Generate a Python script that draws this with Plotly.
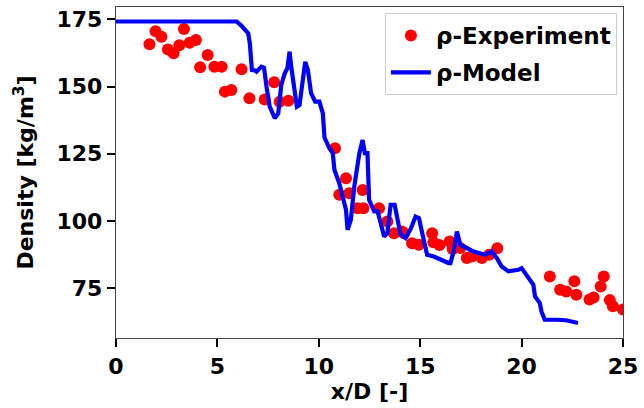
import plotly.graph_objects as go

exp_x = [1.65, 1.95, 2.24, 2.56, 2.84, 3.12, 3.35, 3.63, 3.94, 4.15, 4.52, 4.85, 5.21, 5.37, 5.69,
         6.19, 6.58, 7.33, 7.8, 8.07, 8.5, 10.8, 11.01, 11.34, 11.5, 11.91, 12.16, 12.2, 12.97,
         13.38, 13.71, 14.1, 14.2, 14.6, 14.93, 15.59, 15.65, 15.95, 16.45, 16.6, 16.98, 17.3,
         17.55, 18.04, 18.4, 18.8, 21.39, 21.9, 22.2, 22.6, 22.7, 23.35, 23.55, 23.9, 24.05,
         24.35, 24.5, 25.0]
exp_rho = [165.7, 170.6, 168.5, 163.8, 162.4, 165.4, 171.4, 166.3, 167.3, 157.2, 161.7, 157.4, 157.4,
           148.1, 148.7, 156.4, 145.6, 145.2, 151.6, 144.3, 144.7, 127.0, 109.7, 115.9, 110.3, 104.7,
           111.5, 104.7, 104.7, 99.8, 95.4, 96.0, 95.4, 91.7, 91.1, 95.4, 92.0, 91.0, 92.3, 89.5,
           89.9, 86.2, 86.7, 86.2, 87.4, 89.8, 79.3, 74.4, 73.7, 77.5, 72.5, 70.7, 71.5, 75.6, 79.3,
           70.5, 68.2, 67.0]

model_x = [0, 5.95, 6.2, 6.36, 6.52, 6.6, 6.68, 6.7, 6.85, 6.93, 7.17, 7.3, 7.42, 7.58, 7.83, 8.0,
           8.15, 8.32, 8.45, 8.56, 8.64, 8.81, 8.92, 9.05, 9.22, 9.33, 9.46, 9.62, 9.82, 10.03, 10.2,
           10.28, 10.52, 10.69, 10.77, 11.01, 11.18, 11.34, 11.42, 11.58, 11.75, 11.88, 12.0, 12.16,
           12.27, 12.4, 12.48, 12.73, 12.9, 13.05, 13.22, 13.38, 13.54, 13.74, 13.87, 14.03, 14.28,
           14.53, 14.77, 14.94, 15.1, 15.26, 15.34, 15.67, 16.0, 16.4, 16.49, 16.65, 16.81, 16.98,
           17.3, 17.63, 18.2, 18.53, 18.77, 19.02, 19.35, 19.84, 20.0, 20.16, 20.41, 20.58, 20.66,
           20.9, 20.98, 21.14, 21.72, 22.2, 22.78]
model_rho = [174.2, 174.2, 172.5, 171.0, 169.8, 166.0, 159.2, 156.2, 156.0, 155.5, 157.4, 157.0, 150.0,
             142.5, 138.2, 140.0, 150.6, 154.9, 156.8, 163.0, 157.4, 148.7, 142.5, 143.1, 154.9, 159.2,
             156.2, 147.5, 144.4, 144.4, 140.0, 131.0, 127.0, 125.2, 119.0, 114.0, 109.0, 104.1, 96.7,
             100.4, 112.8, 120.2, 125.2, 130.1, 125.2, 125.2, 107.8, 103.5, 103.5, 99.2, 94.2, 95.4,
             106.0, 106.0, 100.4, 95.0, 93.6, 97.0, 101.6, 101.0, 95.4, 89.0, 87.4, 86.7, 85.5, 84.3,
             84.3, 88.6, 96.0, 91.1, 89.9, 88.6, 87.4, 88.6, 86.2, 83.0, 81.2, 81.8, 82.4, 80.6, 77.5,
             76.2, 71.9, 69.4, 66.3, 63.2, 63.2, 63.0, 62.0]

x_ticks = [0, 5, 10, 15, 20, 25]
y_ticks = [75, 100, 125, 150, 175]

FONT = "DejaVu Sans"

fig = go.Figure()
fig.add_trace(go.Scatter(
    x=exp_x, y=exp_rho, mode="markers", name="<b>ρ-Experiment</b>",
    marker=dict(color="#ff0000", size=12, line=dict(width=0)),
    legendgroup="a",
))
fig.add_trace(go.Scatter(
    x=model_x, y=model_rho, mode="lines", name="<b>ρ-Model</b>",
    line=dict(color="#0000ff", width=4.2), legendgroup="b",
))

axis_common = dict(
    showline=True, linecolor="#444444", linewidth=1.3, mirror=True,
    ticks="outside", ticklen=8, tickwidth=1.8, tickcolor="#000000",
    showgrid=False, zeroline=False,
    tickfont=dict(family=FONT, size=22, color="#000000", weight="bold"),
)

fig.update_layout(
    width=644, height=408,
    margin=dict(l=116, r=16, t=6, b=70),
    plot_bgcolor="white", paper_bgcolor="white",
    font=dict(family=FONT, color="#000000"),
    xaxis=dict(range=[0, 25], tickvals=x_ticks, ticktext=[str(v) for v in x_ticks],
               title=dict(text="<b>x/D [-]</b>", font=dict(family=FONT, size=22), standoff=4),
               **axis_common),
    yaxis=dict(range=[56.4, 179.6], tickvals=y_ticks, ticktext=[str(v) for v in y_ticks],
               title=dict(text="<b>Density [kg/m<sup>3</sup>]</b>", font=dict(family=FONT, size=22), standoff=16),
               **axis_common),
    legend=dict(x=0.988, y=0.982, xanchor="right", yanchor="top",
                bgcolor="rgba(255,255,255,0.8)", bordercolor="#cccccc", borderwidth=1,
                font=dict(family=FONT, size=23, color="#000000"),
                tracegroupgap=4, itemwidth=40),
    showlegend=True,
)

fig.write_html("out.html")
